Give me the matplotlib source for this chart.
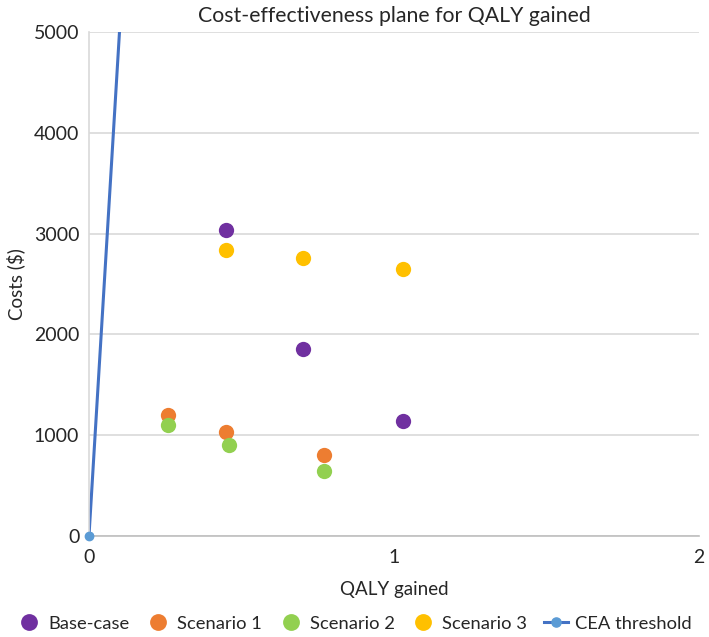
import matplotlib
matplotlib.use('Agg')
import matplotlib.pyplot as plt

plt.rcParams['font.family'] = ['Lato', 'DejaVu Sans']

# data
series_names = ['Base-case', 'Scenario 1', 'Scenario 2', 'Scenario 3']
series_colors = ['#7030A0', '#ED7D31', '#92D050', '#FFC000']
qaly = [
    [0.45, 0.70, 1.03],   # Base-case
    [0.26, 0.45, 0.77],   # Scenario 1
    [0.26, 0.46, 0.77],   # Scenario 2
    [0.45, 0.70, 1.03],   # Scenario 3
]
costs = [
    [3035, 1855, 1140],
    [1200, 1030, 800],
    [1100, 900, 645],
    [2840, 2760, 2650],
]
# CEA threshold line ($50,000 per QALY)
thr_x = [0, 1]
thr_y = [0, 50000]

fig = plt.figure(figsize=(7.09, 6.37), dpi=100)
ax = fig.add_axes([0.1255, 0.1585, 0.8605, 0.7913])

for name, col, xs, ys in zip(series_names, series_colors, qaly, costs):
    ax.plot(xs, ys, linestyle='none', marker='o', markersize=11,
            color=col, markeredgewidth=0, label=name, zorder=3)

ax.plot(thr_x, thr_y, color='#4472C4', linewidth=2.2, marker='o',
        markersize=6, markerfacecolor='#5B9BD5', markeredgecolor='#5B9BD5',
        label='CEA threshold', zorder=2)
# keep the origin marker visible on top of the axis
ax.plot([thr_x[0]], [thr_y[0]], marker='o', markersize=6, color='#5B9BD5',
        clip_on=False, zorder=4)

ax.set_xlim(0, 2)
ax.set_ylim(0, 5000)
ax.set_xticks([0, 1, 2])
ax.set_yticks(range(0, 5001, 1000))
ax.yaxis.grid(True, color='#D9D9D9', linewidth=1.2)
ax.set_axisbelow(True)
ax.tick_params(length=0, labelsize=14, colors='#262626', pad=7)
ax.tick_params(axis='x', pad=9)

for s in ['top', 'right']:
    ax.spines[s].set_visible(False)
ax.spines['left'].set_color('#D9D9D9')
ax.spines['left'].set_linewidth(1.2)
ax.spines['bottom'].set_color('#BFBFBF')
ax.spines['bottom'].set_linewidth(1.2)

ax.set_title('Cost-effectiveness plane for QALY gained', fontsize=15.3,
             color='#262626', pad=7)
ax.set_xlabel('QALY gained', fontsize=13.5, color='#262626', labelpad=11)
ax.set_ylabel('Costs ($)', fontsize=13.5, color='#262626', labelpad=6)

handles, labels = ax.get_legend_handles_labels()
fig.legend(handles, labels, loc='lower center', ncol=5, frameon=False,
           fontsize=13.2, bbox_to_anchor=(0.5, -0.012), handletextpad=0.4,
           columnspacing=0.9, handlelength=1.3, labelcolor='#262626',
           markerscale=1.1, borderaxespad=0.3)

plt.savefig('out.png', dpi=100)
plt.close()
